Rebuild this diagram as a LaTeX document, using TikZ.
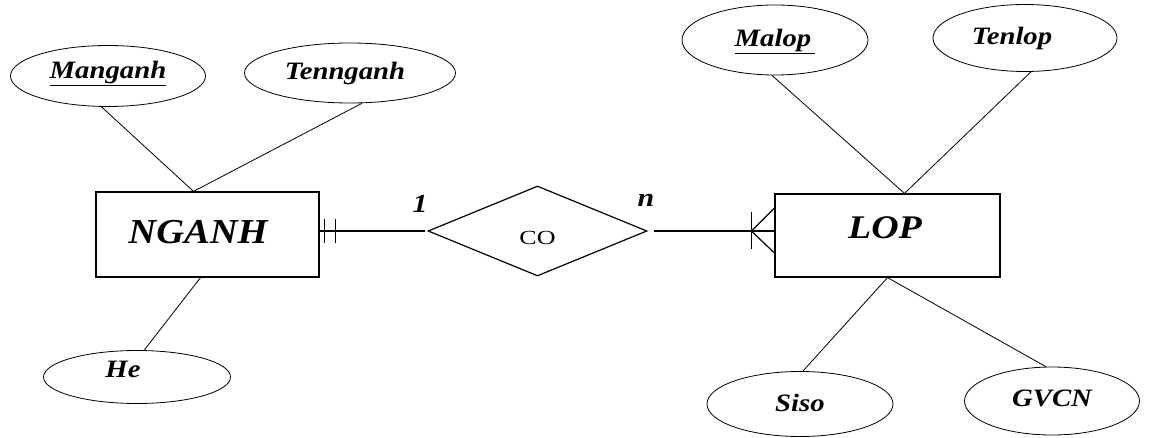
\documentclass[tikz,border=0pt]{standalone}
\usepackage{fontspec}
\setmainfont{Liberation Serif}
\newfontfamily\erfont[FakeStretch=1.15]{Liberation Serif}
\newfontfamily\entfont[FakeStretch=1.1]{Liberation Serif}
\newfontfamily\relfont[FakeStretch=1.3]{Liberation Serif}
\usetikzlibrary{shapes.geometric,calc}

\begin{document}
\begin{tikzpicture}[x=1pt,y=-1pt,
  attr/.style={draw, ellipse, line width=0.8pt, inner sep=0pt,
    text height=17pt, text depth=4pt,
    font=\erfont\bfseries\itshape\fontsize{25}{27}\selectfont},
  entity/.style={draw, rectangle, line width=1.2pt, inner sep=0pt,
    text height=23pt, text depth=5pt,
    font=\entfont\bfseries\itshape\fontsize{35}{37}\selectfont},
  rel/.style={draw, diamond, line width=1.2pt, inner sep=0pt,
    minimum width=219pt, minimum height=90pt,
    text height=27pt, text depth=0pt,
    font=\relfont\fontsize{20}{22}\selectfont},
  card/.style={font=\erfont\bfseries\itshape\fontsize{26}{28}\selectfont, inner sep=0pt},
  link/.style={line width=0.8pt},
  relline/.style={line width=1.2pt}]
\useasboundingbox (0,0) rectangle (1154,438);

% entities
\node[entity, minimum width=223pt, minimum height=85pt] (ng) at (207.5,234.5) {NGANH\kern19pt};
\node[entity, minimum width=225pt, minimum height=83pt, text height=22pt, text depth=15pt,
  font=\erfont\bfseries\itshape\fontsize{33}{35}\selectfont] (lop) at (887.5,235.5) {LOP\kern5pt};

% relationship
\node[rel] (co) at (537.5,231) {CO};

% attributes of NGANH
\node[attr, minimum width=195pt, minimum height=61pt, text depth=12pt] (mang) at (108,76) {\underline{Manganh}};
\node[attr, minimum width=211pt, minimum height=60pt] (teng) at (350,73) {Tennganh\kern10pt};
\node[attr, minimum width=187pt, minimum height=53pt, text depth=16pt] (he) at (137,377) {He\kern28pt};

% attributes of LOP
\node[attr, minimum width=186pt, minimum height=70pt] (malop) at (775,40) {\underline{Malop\,}};
\node[attr, minimum width=184pt, minimum height=67pt] (tenlop) at (1025,38) {Tenlop\kern26pt};
\node[attr, minimum width=186pt, minimum height=65pt, text depth=2pt] (siso) at (800,404) {Siso};
\node[attr, minimum width=175pt, minimum height=68pt, text depth=6pt] (gvcn) at (1052,401) {GVCN};

% meeting points on the entity borders
\coordinate (ngtop) at ($(ng.north)+(-14,0)$);
\coordinate (ngbot) at ($(ng.south)+(-7,0)$);
\coordinate (loptop) at ($(lop.north)+(17,0)$);
\coordinate (lopbot) at (lop.south);

% attribute links
\draw[link] (mang.258) -- (ngtop);
\draw[link] (teng.292) -- (ngtop);
\draw[link] (he.75) -- (ngbot);
\draw[link] (malop.265) -- (loptop);
\draw[link] (tenlop.280) -- (loptop);
\draw[link] (siso.85) -- (lopbot);
\draw[link] (gvcn.100) -- (lopbot);

% relationship lines with cardinality marks
\coordinate (ngr) at (co.west -| ng.east);
\coordinate (lopl) at (co.east -| lop.west);
\draw[relline] (ngr) -- ($(co.west)+(-2,0)$);
\draw[relline] ($(ngr)+(5,-12)$) -- ($(ngr)+(5,12)$);
\draw[relline] ($(ngr)+(16,-12)$) -- ($(ngr)+(16,12)$);
\draw[relline] ($(co.east)+(6,0)$) -- (lopl);
\draw[relline] ($(lopl)+(-23,-18.5)$) -- ($(lopl)+(-23,18.5)$);
\draw[relline] ($(lopl)+(0,-23)$) -- ($(lopl)+(-23,0)$) -- ($(lopl)+(0,22)$);

% cardinalities
\node[card] (c1) at (420,204) {1};
\node[card] (cn) at (646,200) {n};
\end{tikzpicture}
\end{document}
